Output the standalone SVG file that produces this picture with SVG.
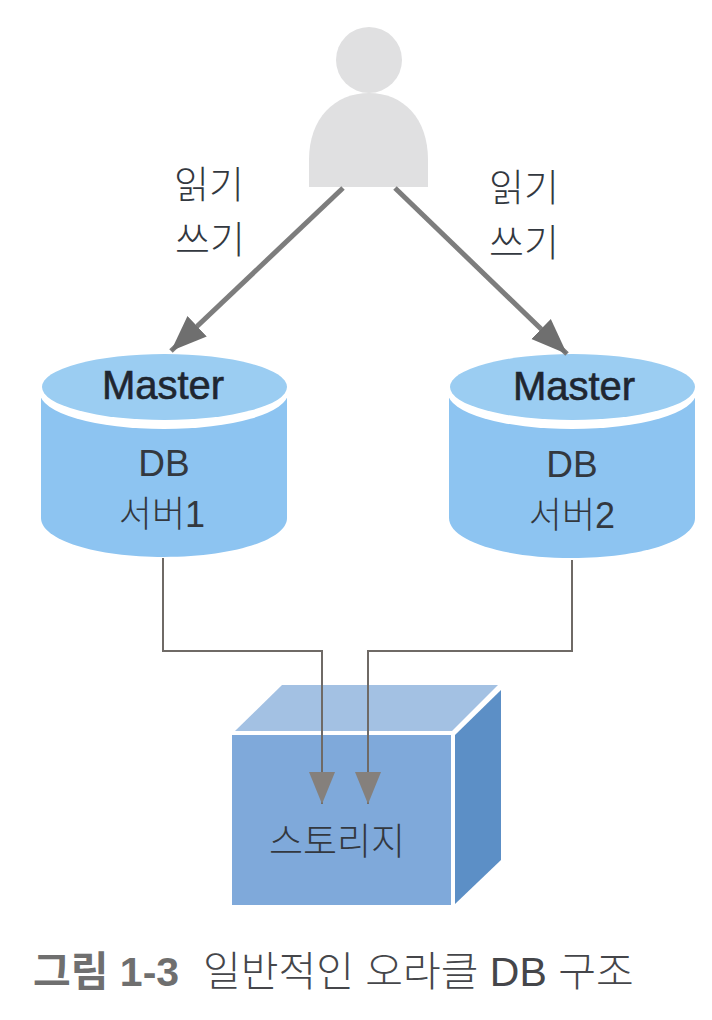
<svg xmlns="http://www.w3.org/2000/svg" width="712" height="1020" viewBox="0 0 712 1020">
<style>
text{font-family:"Liberation Sans","Noto Sans CJK KR",sans-serif;fill:#33383f;text-anchor:middle}
.l{font-size:38px;font-weight:300}
.n{font-size:36px;font-weight:300}
.s{font-size:37px;font-weight:300}
.m{font-size:40px;fill:#1f2630;stroke:#1f2630;stroke-width:.6px}
.d{font-size:37px}
.c{fill:none;stroke:#6f6a66;stroke-width:2}
.a{fill:none;stroke:#7d7d7d;stroke-width:5}
.b{fill:#8dc4f1}.t{fill:#9bcdf2}
</style>
<defs>
<marker id="ah" markerUnits="userSpaceOnUse" markerWidth="40" markerHeight="32" refX="36" refY="15" orient="auto"><path d="M0 1L36 15L0 29Z" fill="#6f6f6f"/></marker>
<marker id="as" markerUnits="userSpaceOnUse" markerWidth="36" markerHeight="28" refX="32" refY="13" orient="auto"><path d="M0 0L32 13L0 26Z" fill="#85807c"/></marker>
</defs>
<rect width="712" height="1020" fill="#fff"/>
<g id="user"><circle cx="369" cy="60" r="33" fill="#e0e0e1"/><path d="M309 187V160C309 118 335 93 369 93C403 93 428 118 428 160V187Z" fill="#e0e0e1"/></g>
<g id="master1"><path class="b" d="M41 398V518C41 540 96 557 164 557C232 557 287 540 287 518V398Z"/><ellipse cx="164" cy="393" rx="124" ry="36" fill="#fff"/><ellipse class="t" cx="164.500" cy="387" rx="122.500" ry="33"/><text class="m" x="163" y="399">Master</text><text class="d" x="164" y="476">DB</text><text class="n" x="162" y="527">서버1</text></g>
<g id="master2"><path class="b" d="M449 398V518C449 541 504 558 572 558C640 558 695 541 695 518V398Z"/><ellipse cx="572" cy="393" rx="124" ry="36" fill="#fff"/><ellipse class="t" cx="572.500" cy="387" rx="122.500" ry="33"/><text class="m" x="574" y="400">Master</text><text class="d" x="572" y="477">DB</text><text class="n" x="572" y="528">서버2</text></g>
<g id="storage"><path d="M235 731L282 685H498L452 731Z" fill="#a3c1e3"/><path d="M455 735L501 690V860L455 904Z" fill="#5c8fc6"/><rect x="232" y="735" width="219" height="170" fill="#7fa9da"/><text class="s" x="337" y="855">스토리지</text></g>
<g id="connectors">
<path class="a" d="M343 188L171 351" marker-end="url(#ah)"/>
<path class="a" d="M395 188L567 354" marker-end="url(#ah)"/>
<path class="c" d="M163 558V651H322V804" marker-end="url(#as)"/>
<path class="c" d="M572 560V651H368V804" marker-end="url(#as)"/>
</g>
<g id="labels"><text class="l" x="209" y="198">읽기</text><text class="l" x="210" y="253">쓰기</text><text class="l" x="524" y="201">읽기</text><text class="l" x="524" y="256">쓰기</text></g>
<g id="caption"><text x="33" y="986" style="text-anchor:start;font-size:41px;font-weight:700;fill:#6f6f6f">그림 1-3</text><text x="203" y="986" style="text-anchor:start;font-size:41px;font-weight:300;fill:#45464a">일반적인 오라클 DB 구조</text></g>
</svg>
